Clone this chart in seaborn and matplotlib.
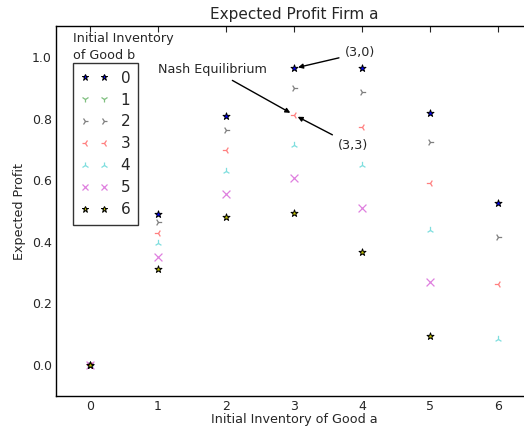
import numpy as np
import pandas as pd
import matplotlib
matplotlib.use("Agg")
import matplotlib.pyplot as plt
from matplotlib.lines import Line2D
import seaborn as sns

sns.set_style("white")
plt.rcParams['font.family'] = ['DejaVu Sans']

inventory_a = [0, 1, 2, 3, 4, 5, 6]
b_levels = ["0", "1", "2", "3", "4", "5", "6"]
profit_b0 = [0.0, 0.491, 0.807, 0.963, 0.965, 0.817, 0.525]
profit_b1 = [np.nan] * 7  # not visible in the reference
profit_b2 = [0.0, 0.464, 0.762, 0.899, 0.886, 0.724, 0.417]
profit_b3 = [0.0, 0.430, 0.699, 0.812, 0.773, 0.590, 0.264]
profit_b4 = [0.0, 0.395, 0.631, 0.714, 0.649, 0.437, 0.085]
profit_b5 = [0.0, 0.352, 0.554, 0.607, 0.510, 0.269, np.nan]
profit_b6 = [0.0, 0.313, 0.481, 0.494, 0.368, 0.096, np.nan]
series = [profit_b0, profit_b1, profit_b2, profit_b3, profit_b4, profit_b5, profit_b6]

markers = ['*', '1', '4', '3', '2', 'x', '*']
colors = ['b', 'g', 'k', 'r', 'c', 'm', 'y']
edges = ['k', None, None, None, None, None, 'k']
alphas = [1.0, 0.5, 0.5, 0.5, 0.5, 0.5, 1.0]
sizes = [28, 28, 28, 28, 28, 32, 28]

fig = plt.figure(figsize=(5.24, 4.28), dpi=100)
ax = fig.add_axes([0.107, 0.075, 0.908, 0.864])

for lab, vals, m, c, e, a, s in zip(b_levels, series, markers, colors, edges, alphas, sizes):
    df = pd.DataFrame({"a": inventory_a, "p": vals}).dropna()
    if len(df) == 0:
        continue
    kw = dict(marker=m, s=s, color=c, alpha=a, ax=ax, legend=False)
    if e is not None:
        kw.update(edgecolor=e, linewidth=0.7)
    else:
        kw.update(linewidth=0.9)
    sns.scatterplot(data=df, x="a", y="p", **kw)

ax.set_xlim(-0.5, 6.5)
ax.set_ylim(-0.1, 1.1)
ax.set_xticks(range(0, 7))
ax.set_yticks([0.0, 0.2, 0.4, 0.6, 0.8, 1.0])
ax.set_yticklabels(["0.0", "0.2", "0.4", "0.6", "0.8", "1.0"])
ax.tick_params(direction='in', top=True, right=True, length=4, labelsize=9, pad=3)
for sp in ax.spines.values():
    sp.set_visible(True)
    sp.set_color('k')
    sp.set_linewidth(1.0)

ax.set_title("Expected Profit Firm a", fontsize=11, pad=5)
ax.set_xlabel("Initial Inventory of Good a", fontsize=9.2, labelpad=0)
ax.set_ylabel("Expected Profit", fontsize=9.2, labelpad=4)

handles = []
for m, c, e, a in zip(markers, colors, edges, alphas):
    h = Line2D([0], [0], linestyle='', marker=m, color=c, alpha=a,
               markersize=5, markeredgecolor=(e if e else c),
               markeredgewidth=(0.7 if e else 0.9))
    handles.append(h)
leg = ax.legend(handles, b_levels, numpoints=2, loc='upper left',
                bbox_to_anchor=(0.036, 0.9), borderaxespad=0, fontsize=11,
                frameon=True, fancybox=False, handlelength=1.8,
                labelspacing=0.45, borderpad=0.5, handletextpad=0.8)
leg.get_frame().set_edgecolor('k')
leg.get_frame().set_linewidth(1.0)
ax.text(0.036, 0.985, "Initial Inventory\nof Good b", transform=ax.transAxes,
        ha='left', va='top', fontsize=9.2, linespacing=1.45)

ap = dict(arrowstyle='-|>', color='k', lw=1.0, shrinkA=2, shrinkB=3, mutation_scale=7)
ax.annotate("Nash Equilibrium", xy=(3, profit_b3[3]), xytext=(1.0, 0.96),
            ha='left', va='center', fontsize=9.2, arrowprops=ap)
ax.annotate("(3,0)", xy=(3, profit_b0[3]), xytext=(3.75, 1.013),
            ha='left', va='center', fontsize=9.2, arrowprops=ap)
ax.annotate("(3,3)", xy=(3, profit_b3[3]), xytext=(3.65, 0.712),
            ha='left', va='center', fontsize=9.2, arrowprops=ap)

fig.savefig("out.png", dpi=100)
